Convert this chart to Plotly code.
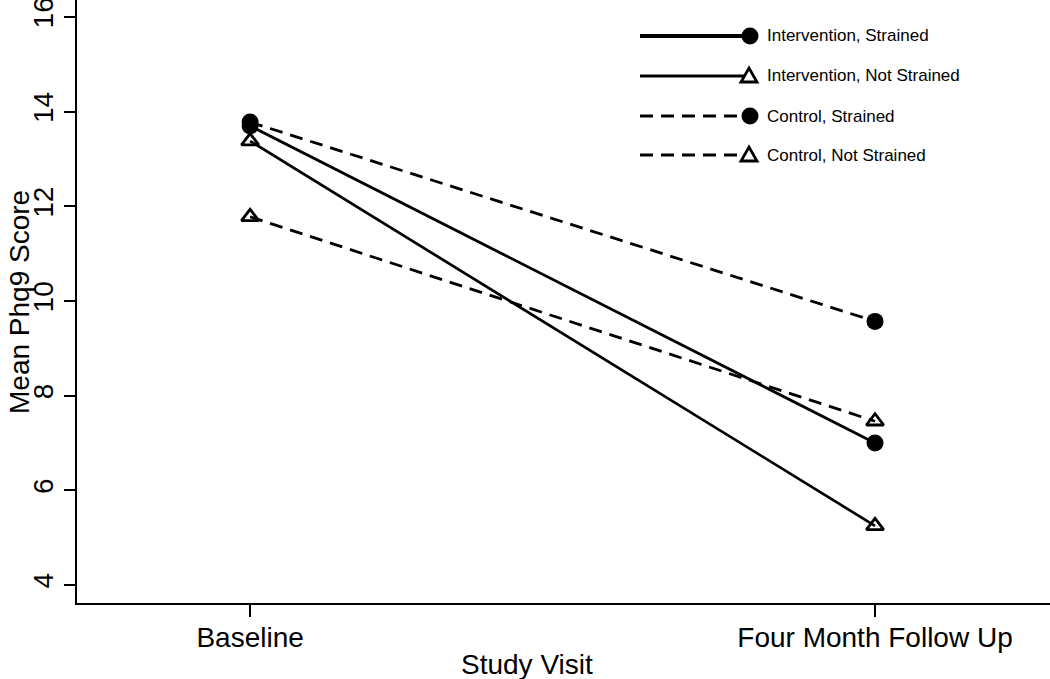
import plotly.graph_objects as go

# ---- data ----
visits = ["Baseline", "Four Month Follow Up"]
int_strained = [13.70, 7.00]
int_not_strained = [13.38, 5.25]
ctrl_strained = [13.78, 9.57]
ctrl_not_strained = [11.78, 7.46]
series_names = ["Intervention, Strained", "Intervention, Not Strained",
                "Control, Strained", "Control, Not Strained"]
y_ticks = [4, 6, 8, 10, 12, 14, 16]

W, H = 1050, 679
ML, MR, MT, MB = 77, 0, 0, 76
FONT = "Liberation Sans, Arial, Helvetica, sans-serif"

styles = [
    dict(dash="solid", width=2.8, legw=4.2, symbol="circle", filled=True),
    dict(dash="solid", width=2.7, legw=3.0, symbol="triangle-up-open", filled=False),
    dict(dash="13px,8px", width=2.8, legw=3.0, symbol="circle", filled=True),
    dict(dash="13px,8px", width=2.8, legw=3.0, symbol="triangle-up-open", filled=False),
]
series = [int_strained, int_not_strained, ctrl_strained, ctrl_not_strained]

fig = go.Figure()
for name, vals, st in zip(series_names, series, styles):
    fig.add_trace(go.Scatter(
        x=visits, y=vals, mode="lines+markers", name=name, showlegend=False,
        line=dict(color="black", width=st["width"], dash=st["dash"]),
        marker=dict(symbol=st["symbol"], size=17 if st["filled"] else 15,
                    color="black", line=dict(color="black", width=0 if st["filled"] else 2.8)),
    ))

# ---- manual legend (pixel layout -> paper coords) ----
pw = W - ML - MR
ph = H - MT - MB
def px(xp):
    return (xp - ML) / pw
def py(yp):
    return (H - MB - yp) / ph

shapes = []
annotations = []
rows_y = [36, 76, 116, 155]
for i, (name, st) in enumerate(zip(series_names, styles)):
    yy = py(rows_y[i])
    shapes.append(dict(type="line", xref="paper", yref="paper",
                       x0=px(640), x1=px(749), y0=yy, y1=yy,
                       line=dict(color="black", width=st["legw"], dash=st["dash"])))
    if st["filled"]:
        shapes.append(dict(type="circle", xref="paper", yref="paper",
                           xsizemode="pixel", ysizemode="pixel",
                           xanchor=px(750), yanchor=yy,
                           x0=-8.5, x1=8.5, y0=-8.5, y1=8.5,
                           fillcolor="black", line=dict(color="black", width=0)))
    else:
        shapes.append(dict(type="path", xref="paper", yref="paper",
                           xsizemode="pixel", ysizemode="pixel",
                           xanchor=px(749), yanchor=yy,
                           path="M -8,-6 L 8,-6 L 0,8 Z",
                           fillcolor="white", line=dict(color="black", width=2.8)))
    annotations.append(dict(text=name, xref="paper", yref="paper",
                            x=px(765), y=yy, xanchor="left", yanchor="middle",
                            showarrow=False, font=dict(family=FONT, size=17, color="black")))

annotations.append(dict(text="Study Visit", xref="paper", yref="paper",
                        x=px(527), y=py(664), xanchor="center", yanchor="middle",
                        showarrow=False, font=dict(family=FONT, size=28, color="black")))
annotations.append(dict(text="Mean Phq9 Score", xref="paper", yref="paper",
                        x=px(20), y=py(302), xanchor="center", yanchor="middle",
                        textangle=-90, showarrow=False,
                        font=dict(family=FONT, size=28, color="black")))

fig.update_layout(
    width=W, height=H,
    margin=dict(l=ML, r=MR, t=MT, b=MB, pad=0, autoexpand=False),
    paper_bgcolor="white", plot_bgcolor="white",
    font=dict(family=FONT, size=28, color="black"),
    shapes=shapes, annotations=annotations,
    xaxis=dict(type="category", range=[-0.277, 1.28], showgrid=False, zeroline=False,
               automargin=False, ticklabelstandoff=-4,
               showline=True, linecolor="black", linewidth=2,
               ticks="outside", ticklen=12, tickwidth=1.5, tickcolor="black",
               tickfont=dict(family=FONT, size=28, color="black")),
    yaxis=dict(range=[3.62, 16.36], tickvals=y_ticks, showgrid=False, zeroline=False,
               automargin=False, ticklabeloverflow="allow",
               showline=True, linecolor="black", linewidth=2,
               ticks="outside", ticklen=11, tickwidth=1.5, tickcolor="black",
               tickangle=-90,
               tickfont=dict(family=FONT, size=28, color="black")),
)

fig.write_html("out.html", config={"displayModeBar": False},
               post_script="document.body.style.margin='0px';document.body.style.overflow='hidden';")
